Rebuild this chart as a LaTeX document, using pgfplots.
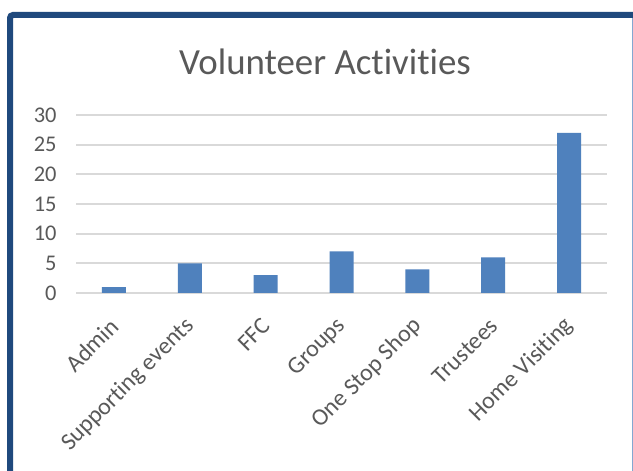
\documentclass[border=0pt]{standalone}
\usepackage{pgfplots}
\pgfplotsset{compat=1.18}
\usepackage{fontspec}
\setmainfont{Carlito}[Ligatures={NoCommon}]
\definecolor{barblue}{RGB}{79,129,189}
\definecolor{frameblue}{RGB}{31,73,125}
\definecolor{txtgray}{RGB}{89,89,89}
\definecolor{gridgray}{RGB}{217,217,217}

\begin{document}
\begin{tikzpicture}[x=1bp,y=1bp]
  % canvas, 633 x 471 px, origin bottom left
  \useasboundingbox (0,0) rectangle (633,471);
  \fill[white] (0,0) rectangle (633,471);
  \begin{scope}
    \clip (0,0) rectangle (633,471);
    \draw[frameblue, line width=6bp, rounded corners=3bp] (10,-10) -- (10,456) -- (640,456);
    \draw[barblue!70, line width=1bp] (632,0) -- (632,453);
  \end{scope}

  \node[txtgray, font=\fontsize{37}{40}\selectfont] at (325,409) {Volunteer Activities};

  \begin{axis}[
    at={(76bp,178bp)}, anchor=south west,
    scale only axis,
    width=531bp, height=178bp,
    ybar, bar width=24bp,
    ymin=0, ymax=30, ytick={0,5,...,30},
    xmin=-0.5, xmax=6.5,
    xtick=data,
    xticklabels={Admin,Supporting events,FFC,Groups,One Stop Shop,Trustees,Home Visiting},
    axis line style={draw=none},
    major tick length=0pt,
    ymajorgrids, grid style={gridgray, line width=2bp},
    tick label style={txtgray, font=\fontsize{22.5}{24}\selectfont},
    xticklabel style={font=\fontsize{24}{26}\selectfont},
    /pgf/number format/assume math mode=true,
    yticklabel style={xshift=-16bp},
    xticklabel style={xshift=3bp, yshift=-27bp, rotate=45, anchor=east},
  ]
    \addplot[fill=barblue, draw=none] coordinates {
      (0,1) (1,5) (2,3) (3,7) (4,4) (5,6) (6,27)
    };
  \end{axis}
\end{tikzpicture}
\end{document}
